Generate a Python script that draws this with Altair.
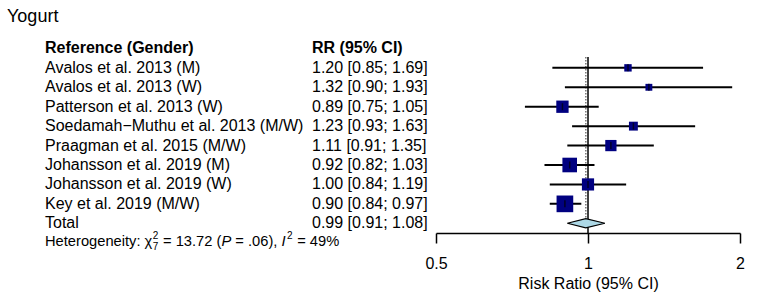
import altair as alt
import pandas as pd

FONT = "Liberation Sans"

# ---------------- data ----------------
title_text = "Yogurt"
header_labels = ["Reference (Gender)", "RR (95% CI)"]
studies = [
    "Avalos et al. 2013 (M)",
    "Avalos et al. 2013 (W)",
    "Patterson et al. 2013 (W)",
    "Soedamah\u2212Muthu et al. 2013 (M/W)",
    "Praagman et al. 2015 (M/W)",
    "Johansson et al. 2019 (M)",
    "Johansson et al. 2019 (W)",
    "Key et al. 2019 (M/W)",
]
rr = [1.20, 1.32, 0.89, 1.23, 1.11, 0.92, 1.00, 0.90]
lower = [0.85, 0.90, 0.75, 0.93, 0.91, 0.82, 0.84, 0.84]
upper = [1.69, 1.93, 1.05, 1.63, 1.35, 1.03, 1.19, 0.97]
weights = [5.0, 4.3, 13.8, 7.2, 11.5, 19.4, 13.5, 25.3]  # % weight (box area)
total_label = "Total"
pooled = [0.99]
pooled_lower = [0.91]
pooled_upper = [1.08]
het_chi2 = "13.72"
het_df = "7"
het_p = ".06"
het_i2 = "49%"
x_ticks = [0.5, 1, 2]
x_title = "Risk Ratio (95% CI)"

# ---------------- tables ----------------
n = len(studies)
rows = list(range(n))
total_row = n
header_row = -1
line_top = -0.56

df = pd.DataFrame({"study": studies, "rr": rr, "lower": lower, "upper": upper,
                   "weight": weights, "row": rows})
df["ci"] = [f"{a:.2f} [{b:.2f}; {c:.2f}]" for a, b, c in zip(rr, lower, upper)]

tot = pd.DataFrame({"label": [total_label],
                    "ci": [f"{pooled[0]:.2f} [{pooled_lower[0]:.2f}; {pooled_upper[0]:.2f}]"],
                    "row": [total_row]})
hdr = pd.DataFrame({"a": [header_labels[0]], "b": [header_labels[1]], "row": [header_row]})

half = 0.24
diamond = pd.DataFrame({
    "x": [pooled_lower[0], pooled[0], pooled_upper[0]],
    "y": [total_row, total_row - half, total_row],
    "y2": [total_row, total_row + half, total_row],
})
ref_line = pd.DataFrame({"x": [1.0], "y": [line_top], "y2": [total_row + 0.5]})
pool_line = pd.DataFrame({"x": pooled, "y": [line_top], "y2": [total_row]})

# ---------------- scales / axis ----------------
xs = alt.Scale(type="log", domain=[0.5, 2], nice=False)
ys = alt.Scale(domain=[-2, 8.5], reverse=True, nice=False, zero=False)
ax = alt.Axis(values=x_ticks, format="~g", title=x_title, grid=False,
              domainColor="black", domainWidth=1.5, tickColor="black",
              tickWidth=1.5, tickSize=10, labelFontSize=16, labelColor="black",
              labelFont=FONT, titleFont=FONT, titleFontSize=16,
              titleFontWeight="normal", titleColor="black", labelPadding=12,
              titlePadding=4, labelFlush=False, labelOverlap=False)


def X(f):
    return alt.X(f, type="quantitative", scale=xs, axis=ax)


def Y(f="row"):
    return alt.Y(f, type="quantitative", scale=ys, axis=None)


pool_rule = alt.Chart(pool_line).mark_rule(color="#777777", strokeWidth=1.5,
                                           strokeDash=[1.5, 1.5]).encode(
    x=X("x"), y=Y("y"), y2="y2")
ref_rule = alt.Chart(ref_line).mark_rule(color="black", strokeWidth=1.5).encode(
    x=X("x"), y=Y("y"), y2="y2")
ci_rules = alt.Chart(df).mark_rule(color="black", strokeWidth=2).encode(
    x=X("lower"), x2="upper", y=Y())
boxes = alt.Chart(df).mark_square(color="#000080", opacity=1).encode(
    x=X("rr"), y=Y(),
    size=alt.Size("weight:Q", scale=alt.Scale(domain=[0, 100], range=[0, 1100]),
                  legend=None))
pts = alt.Chart(df).mark_tick(orient="vertical", color="black", thickness=1.5,
                              size=7).encode(x=X("rr"), y=Y())
diam = alt.Chart(diamond).mark_area(orient="vertical", fill="#ADD8E6", stroke="black",
                                    strokeWidth=1.2, opacity=1).encode(
    x=X("x"), y=Y("y"), y2="y2")

COL1 = -391
COL2 = -124
txt_kw = dict(align="left", baseline="middle", font=FONT, fontSize=16, color="black")
lab = alt.Chart(df).mark_text(**txt_kw).encode(x=alt.value(COL1), y=Y(), text="study:N")
cis = alt.Chart(df).mark_text(**txt_kw).encode(x=alt.value(COL2), y=Y(), text="ci:N")
tlab = alt.Chart(tot).mark_text(**txt_kw).encode(x=alt.value(COL1), y=Y(), text="label:N")
tci = alt.Chart(tot).mark_text(**txt_kw).encode(x=alt.value(COL2), y=Y(), text="ci:N")
h1 = alt.Chart(hdr).mark_text(fontWeight="bold", **txt_kw).encode(
    x=alt.value(COL1), y=Y(), text="a:N")
h2 = alt.Chart(hdr).mark_text(fontWeight="bold", **txt_kw).encode(
    x=alt.value(COL2), y=Y(), text="b:N")
ttl = alt.Chart(pd.DataFrame({"t": [title_text]})).mark_text(
    align="left", baseline="middle", font=FONT, fontSize=18, color="black").encode(
    x=alt.value(-429), y=alt.value(-12), text="t:N")

# ---------------- heterogeneity line (rich text) ----------------
AW = {' ': 278, ':': 278, '.': 278, ',': 278, '(': 333, ')': 333, '=': 584,
      '%': 889, 'H': 722, 'e': 556, 't': 278, 'r': 333, 'o': 556, 'g': 556,
      'n': 556, 'i': 222, 'y': 500, '\u03c7': 521, 'P': 667, 'I': 278}


def w(s, fs):
    return sum(AW.get(c, 556) for c in s) / 1000.0 * fs


FS, FSS = 14.7, 10
het_row = total_row + 1
segs = []
x = COL1
s = "Heterogeneity: \u03c7"
segs.append((s, x, FS, "normal", -1))
x += w(s, FS) + 0.5
segs.append(("2", x, FSS, "normal", -6.5))
segs.append((het_df, x, FSS, "normal", 4))
x += w("2", FSS) + 0.5
s = " = " + het_chi2 + " ("
segs.append((s.strip(), x + w(" ", FS), FS, "normal", -1))
x += w(s, FS)
segs.append(("P", x, FS, "italic", -1))
x += w("P", FS)
s = " = " + het_p + "), "
segs.append((s.strip(), x + w(" ", FS), FS, "normal", -1))
x += w(s, FS)
segs.append(("I", x, FS, "italic", -1))
x += w("I", FS) + 1.5
segs.append(("2", x, FSS, "normal", -6.5))
x += w("2", FSS) + 0.5
s = " = " + het_i2
segs.append((s.strip(), x + w(" ", FS), FS, "normal", -1))

het_layers = []
for t, xp, fs, st, dy in segs:
    het_layers.append(
        alt.Chart(pd.DataFrame({"t": [t], "row": [het_row]})).mark_text(
            align="left", baseline="middle", font=FONT, fontSize=fs,
            fontStyle=st, dy=dy, color="black").encode(
            x=alt.value(xp), y=Y(), text="t:N"))

chart = alt.layer(pool_rule, ref_rule, ci_rules, boxes, pts, diam,
                  lab, cis, tlab, tci, h1, h2, ttl, *het_layers).properties(
    width=304, height=204,
    autosize=alt.AutoSizeParams(type="none"),
    padding={"left": 436, "top": 29, "right": 25, "bottom": 67},
).configure_view(stroke=None)

chart.save("out.html", embed_options={"renderer": "svg", "actions": False})
